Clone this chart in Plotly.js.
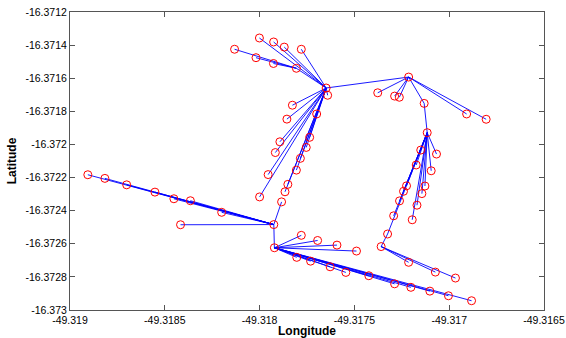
<!DOCTYPE html>
<html>
<head>
<meta charset="utf-8">
<script src="https://cdn.plot.ly/plotly-3.0.1.min.js"></script>
<style>html,body{margin:0;padding:0;background:#fff;}#chart{width:566px;height:338px;}</style>
</head>
<body>
<div id="chart"></div>
<script>
// Node longitudes, latitudes and parent index (-1 = root)
const lon = [
 -49.317649, -49.317214, -49.317377, -49.317288, -49.317263, -49.317132, -49.316908, -49.316805,
 -49.317116, -49.317150, -49.317067, -49.317174, -49.317095, -49.317225, -49.317241, -49.317128,
 -49.317144, -49.317262, -49.317170, -49.317293, -49.317195, -49.317325, -49.317359, -49.317214,
 -49.317073, -49.316967, -49.318001, -49.317926, -49.317870, -49.317780, -49.317806, -49.318132,
 -49.318019, -49.317927, -49.317641, -49.317827, -49.317856, -49.317893, -49.317917, -49.317955,
 -49.318000, -49.317699, -49.317736, -49.317754, -49.317785, -49.317806, -49.317851, -49.317866,
 -49.317884, -49.317925, -49.318906, -49.318816, -49.318701, -49.318552, -49.318452, -49.318365,
 -49.318200, -49.318417, -49.317922, -49.317780, -49.317694, -49.317592, -49.317489, -49.317804,
 -49.317731, -49.317628, -49.317545, -49.317424, -49.317288, -49.317202, -49.317102, -49.317004,
 -49.316882
];
const lat = [
 -16.371659, -16.371593, -16.371688, -16.371708, -16.371715, -16.371752, -16.371816, -16.371848,
 -16.371929, -16.372034, -16.372058, -16.372124, -16.372159, -16.372250, -16.372283, -16.372251,
 -16.372297, -16.372341, -16.372367, -16.372431, -16.372455, -16.372541, -16.372617, -16.372712,
 -16.372771, -16.372807, -16.371357, -16.371381, -16.371412, -16.371425, -16.371540, -16.371425,
 -16.371476, -16.371511, -16.371703, -16.371763, -16.371847, -16.371984, -16.372049, -16.372182,
 -16.372317, -16.371816, -16.371957, -16.372018, -16.372084, -16.372155, -16.372241, -16.372286,
 -16.372347, -16.372484, -16.372183, -16.372205, -16.372244, -16.372288, -16.372328, -16.372340,
 -16.372410, -16.372485, -16.372624, -16.372549, -16.372580, -16.372608, -16.372644, -16.372682,
 -16.372705, -16.372739, -16.372773, -16.372793, -16.372842, -16.372863, -16.372886, -16.372914,
 -16.372944
];
const parent = [
 -1, 0, 1, 1, 1, 1, 1, 1,
 5, 8, 8, 8, 8, 8, 8, 8,
 8, 8, 8, 8, 8, 8, 21, 22,
 22, 22, 0, 0, 0, 0, 0, 30,
 30, 30, 0, 0, 0, 0, 0, 0,
 0, 0, 0, 0, 0, 0, 0, 0,
 48, 48, 49, 49, 49, 49, 49, 49,
 49, 49, 49, 58, 58, 58, 58, 58,
 58, 58, 58, 58, 58, 58, 58, 58,
 58
];
const xTickVals = [-49.319, -49.3185, -49.318, -49.3175, -49.317, -49.3165];
const xTickText = ['-49.319', '-49.3185', '-49.318', '-49.3175', '-49.317', '-49.3165'];
const yTickVals = [-16.3712, -16.3714, -16.3716, -16.3718, -16.372, -16.3722, -16.3724, -16.3726, -16.3728, -16.373];
const yTickText = ['-16.3712', '-16.3714', '-16.3716', '-16.3718', '-16.372', '-16.3722', '-16.3724', '-16.3726', '-16.3728', '-16.373'];

const segX = [], segY = [];
for (let i = 0; i < lon.length; i++) {
  const p = parent[i];
  if (p < 0) continue;
  segX.push(lon[p], lon[i], null);
  segY.push(lat[p], lat[i], null);
}

const traces = [
  {x: segX, y: segY, mode: 'lines', type: 'scatter', line: {color: '#0000ff', width: 0.9}, hoverinfo: 'skip', connectgaps: false},
  {x: lon, y: lat, mode: 'markers', type: 'scatter',
   marker: {symbol: 'circle-open', size: 8, color: '#ff0000', line: {width: 1, color: '#ff0000'}}}
];

const axisCommon = {
  showgrid: false, zeroline: false, showline: true, linecolor: '#555', linewidth: 1,
  mirror: 'allticks', ticks: 'inside', ticklen: 5, tickcolor: '#555',
  ticklabeloverflow: 'allow',
  tickfont: {family: 'Liberation Sans, Arial, sans-serif', size: 10.5, color: '#000'}
};

const layout = {
  width: 566, height: 338,
  margin: {l: 70, r: 22, t: 12, b: 28},
  paper_bgcolor: '#fff', plot_bgcolor: '#fff',
  showlegend: false,
  xaxis: Object.assign({}, axisCommon, {
    range: [-49.319, -49.3165], tickvals: xTickVals, ticktext: xTickText,
    title: {text: 'Longitude', font: {family: 'Liberation Sans, Arial, sans-serif', size: 12, color: '#000', weight: 'bold'}, standoff: 2}
  }),
  yaxis: Object.assign({}, axisCommon, {
    range: [-16.373, -16.3712], tickvals: yTickVals, ticktext: yTickText,
    title: {text: 'Latitude', font: {family: 'Liberation Sans, Arial, sans-serif', size: 12, color: '#000', weight: 'bold'}, standoff: 6}
  })
};

Plotly.newPlot('chart', traces, layout, {staticPlot: true, displayModeBar: false});
</script>
</body>
</html>
